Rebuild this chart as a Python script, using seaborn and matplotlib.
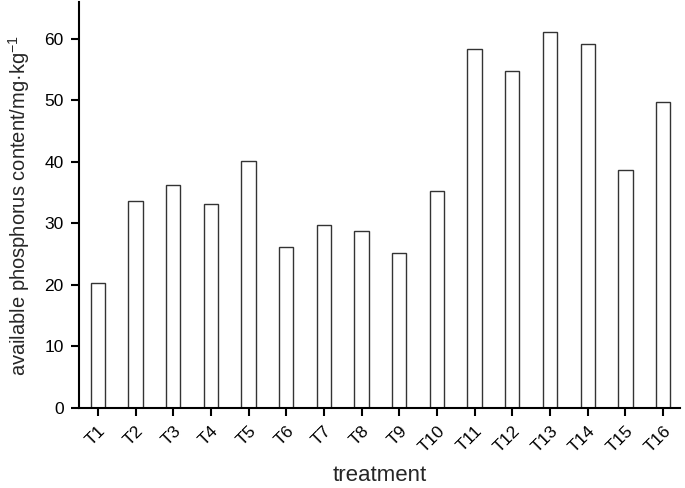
import matplotlib
matplotlib.use("Agg")
import matplotlib.pyplot as plt
import seaborn as sns
import pandas as pd

treatments = ["T1", "T2", "T3", "T4", "T5", "T6", "T7", "T8",
              "T9", "T10", "T11", "T12", "T13", "T14", "T15", "T16"]
phosphorus = [20.3, 33.6, 36.2, 33.2, 40.2, 26.2, 29.8, 28.8,
              25.2, 35.2, 58.4, 54.8, 61.2, 59.2, 38.7, 49.7]
y_ticks = [0, 10, 20, 30, 40, 50, 60]

sns.set_style("ticks")
plt.rcParams['font.family'] = ['Liberation Sans', 'DejaVu Sans']
plt.rcParams['mathtext.fontset'] = 'custom'
plt.rcParams['mathtext.rm'] = 'Liberation Sans'
plt.rcParams['mathtext.it'] = 'Liberation Sans'

df = pd.DataFrame({"treatment": treatments, "value": phosphorus})

fig = plt.figure(figsize=(6.85, 4.88), dpi=100)
ax = fig.add_axes([0.1153, 0.1639, 0.8774, 0.832])

sns.barplot(data=df, x="treatment", y="value", ax=ax, color="white",
            edgecolor="#333333", linewidth=1.0, width=0.38, saturation=1)

ax.set_ylim(0, 66)
ax.set_xlim(-0.5, 15.45)
ax.set_yticks(y_ticks)
ax.set_yticklabels([str(v) for v in y_ticks], fontsize=12.5)
ax.tick_params(axis='both', direction='out', length=6, width=1.5, colors='black')
ax.tick_params(axis='y', pad=5)
ax.tick_params(axis='x', pad=5)
for lbl in ax.get_xticklabels():
    lbl.set_rotation(45)
    lbl.set_ha('right')
    lbl.set_rotation_mode('anchor')
    lbl.set_fontsize(12.5)

for s in ['top', 'right']:
    ax.spines[s].set_visible(False)
for s in ['left', 'bottom']:
    ax.spines[s].set_linewidth(1.5)
    ax.spines[s].set_color('black')

ax.set_xlabel("treatment", fontsize=16, labelpad=7)
ax.set_ylabel("available phosphorus content/mg·kg$^{-1}$", fontsize=14.5, labelpad=9)

fig.savefig("out.png", dpi=100)
